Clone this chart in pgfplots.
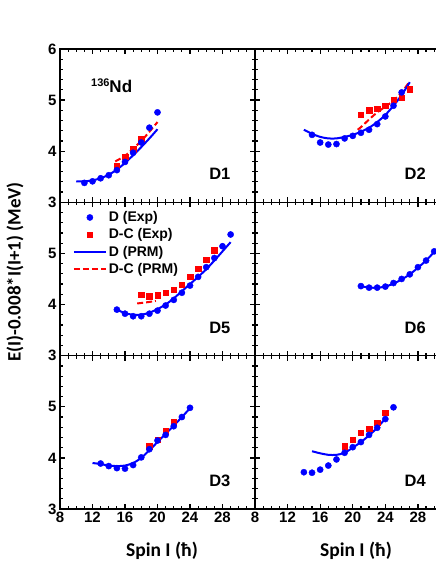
\documentclass[border=0pt]{standalone}
\usepackage{pgfplots}
\pgfplotsset{compat=1.18}
\usepackage{fontspec}
\setmainfont{Liberation Sans}
\newfontfamily\labfont{Carlito}
\definecolor{myblue}{RGB}{0,0,255}
\definecolor{myred}{RGB}{255,0,0}
\pgfplotsset{
 panel/.style={scale only axis, width=195bp, height=153.3bp,
   xmin=8, xmax=32, ymin=3, ymax=6,
   xtick={8,12,...,32}, minor x tick num=3, ytick={3,4,5,6}, minor y tick num=4,
   tick align=inside, major tick length=5bp, minor tick length=3bp,
   axis line style={line width=1.4bp},
   every tick/.style={black, line width=1.2bp},
   /pgf/number format/assume math mode=true,
   ticklabel style={font=\fontsize{15bp}{15bp}\selectfont\bfseries},
   xticklabels={}, yticklabels={}, anchor=south west, clip=false},
 rightpanel/.style={xmax=30.28, width=181.5bp, axis x line*=box, axis y line*=left, separate axis lines},
 expD/.style={only marks, mark=*, mark size=3.1bp, myblue, mark options={draw=myblue, fill=myblue}},
 expDC/.style={only marks, mark=square*, mark size=2.7bp, myred, mark options={draw=myred, fill=myred}},
 prmD/.style={no marks, myblue, line width=2bp, smooth},
 prmDC/.style={no marks, myred, line width=2bp, dash pattern=on 6bp off 3bp, smooth},
}
\tikzset{dlab/.style={anchor=base east, font=\fontsize{16.5bp}{16.5bp}\selectfont\bfseries}}
\begin{document}
\begin{tikzpicture}
\useasboundingbox (0bp,0bp) rectangle (436bp,564bp);
% ---------- D1 (top left)
\begin{axis}[panel, at={(60bp,361.7bp)}, yticklabels={3,4,5,6}]
\addplot[prmDC] coordinates {(14.8,3.80)(16,3.91)(17,4.05)(18,4.20)(19,4.38)(20,4.57)};
\addplot[prmD] coordinates {(10,3.41)(11,3.41)(12,3.43)(13,3.47)(14,3.54)(15,3.64)(16,3.77)(17,3.92)(18,4.08)(19,4.25)(20,4.43)};
\addplot[expDC] coordinates {(15,3.71)(16,3.89)(17,4.04)(18,4.25)};
\addplot[expD] coordinates {(11,3.38)(12,3.41)(13,3.47)(14,3.53)(15,3.63)(16,3.79)(17,3.97)(18,4.17)(19,4.46)(20,4.76)};
\node[dlab] at (axis cs:29.4,3.44) {D1};
\node[anchor=base west, font=\fontsize{17bp}{17bp}\selectfont\bfseries] at (axis cs:11.4,5.14) {\raisebox{6bp}{\fontsize{11bp}{11bp}\selectfont 136}Nd};
\end{axis}
% ---------- D2 (top right)
\begin{axis}[panel, rightpanel, at={(255bp,361.7bp)}]
\addplot[prmDC] coordinates {(20.6,4.42)(21,4.47)(22,4.62)(23,4.76)(24,4.87)(25,4.99)(26,5.15)(27,5.37)};
\addplot[prmD] coordinates {(14,4.42)(15,4.34)(16,4.28)(17,4.25)(18,4.25)(19,4.28)(20,4.32)(21,4.38)(22,4.46)(23,4.57)(24,4.71)(25,4.89)(26,5.10)(27,5.35)};
\addplot[expDC] coordinates {(21,4.72)(22,4.80)(23,4.83)(24,4.89)(25,5.01)(26,5.05)(27,5.21)};
\addplot[expD] coordinates {(15,4.32)(16,4.17)(17,4.13)(18,4.14)(19,4.25)(20,4.30)(21,4.36)(22,4.42)(23,4.53)(24,4.68)(25,4.89)(26,5.15)};
\node[dlab] at (axis cs:29.4,3.44) {D2};
\end{axis}
% ---------- D5 (middle left)
\begin{axis}[panel, at={(60bp,208.4bp)}, yticklabels={3,4,5,{}},
  legend style={draw=none, fill=none, at={(axis cs:9.56,5.86)}, anchor=north west,
    font=\fontsize{14bp}{15bp}\selectfont\bfseries, row sep=1.5bp, inner sep=0pt},
  legend cell align=left,
  legend image code/.code={\draw[mark repeat=2,mark phase=2,#1] plot coordinates {(0bp,0bp) (16bp,0bp) (32bp,0bp)};}]
\addlegendimage{expD}
\addlegendimage{expDC}
\addlegendimage{prmD}
\addlegendimage{prmDC}
\legend{D (Exp), D-C (Exp), D (PRM), D-C (PRM)}
\addplot[prmDC, forget plot] coordinates {(17.5,4.02)(18,4.03)(19,4.05)(19.8,4.07)};
\addplot[prmD, forget plot] coordinates {(15,3.90)(16,3.83)(17,3.80)(18,3.80)(19,3.84)(20,3.91)(21,4.00)(22,4.12)(23,4.26)(24,4.40)(25,4.54)(26,4.69)(27,4.86)(28,5.04)(29,5.22)};
\addplot[expDC, forget plot] coordinates {(18,4.19)(19,4.16)(20,4.18)(21,4.23)(22,4.29)(23,4.39)(24,4.54)(25,4.70)(26,4.88)(27,5.06)};
\addplot[expD, forget plot] coordinates {(15,3.90)(16,3.82)(17,3.77)(18,3.77)(19,3.82)(20,3.88)(21,3.98)(22,4.09)(23,4.23)(24,4.37)(25,4.54)(26,4.73)(27,4.91)(28,5.14)(29,5.37)};
\node[dlab] at (axis cs:29.4,3.44) {D5};
\end{axis}
% ---------- D6 (middle right)
\begin{axis}[panel, rightpanel, at={(255bp,208.4bp)}]
\addplot[prmD] coordinates {(21,4.36)(22,4.33)(23,4.33)(24,4.35)(25,4.41)(26,4.49)(27,4.59)(28,4.72)(29,4.86)(30,5.03)};
\addplot[expD] coordinates {(21,4.36)(22,4.33)(23,4.33)(24,4.35)(25,4.42)(26,4.50)(27,4.59)(28,4.73)(29,4.86)(30,5.04)};
\node[dlab] at (axis cs:29.4,3.44) {D6};
\end{axis}
% ---------- D3 (bottom left)
\begin{axis}[panel, at={(60bp,55bp)}, yticklabels={3,4,5,{}}, xticklabels={8,12,16,20,24,28,{}}]
\addplot[prmD] coordinates {(12,3.90)(13,3.88)(14,3.85)(15,3.84)(16,3.85)(17,3.90)(18,4.00)(19,4.15)(20,4.31)(21,4.47)(22,4.63)(23,4.80)(24,4.97)};
\addplot[expDC] coordinates {(19,4.23)(20,4.36)(21,4.52)(22,4.70)};
\addplot[expD] coordinates {(13,3.89)(14,3.84)(15,3.80)(16,3.79)(17,3.86)(18,4.01)(19,4.17)(20,4.34)(21,4.45)(22,4.62)(23,4.80)(24,4.98)};
\node[dlab] at (axis cs:29.4,3.44) {D3};
\end{axis}
% ---------- D4 (bottom right)
\begin{axis}[panel, rightpanel, at={(255bp,55bp)}, xticklabels={8,12,16,20,24,28}]
\addplot[prmD] coordinates {(15,4.13)(16,4.09)(17,4.06)(18,4.06)(19,4.10)(20,4.20)(21,4.31)(22,4.44)(23,4.59)(24,4.77)};
\addplot[expDC] coordinates {(19,4.23)(20,4.36)(21,4.49)(22,4.57)(23,4.69)(24,4.88)};
\addplot[expD] coordinates {(14,3.72)(15,3.71)(16,3.77)(17,3.85)(18,3.97)(19,4.10)(20,4.21)(21,4.31)(22,4.45)(23,4.59)(24,4.76)(25,4.99)};
\node[dlab] at (axis cs:29.4,3.44) {D4};
\end{axis}
% ---------- labels
\node[rotate=90, font=\labfont\fontsize{19bp}{19bp}\selectfont\bfseries] at (15bp,292bp) {E(I)-0.008*I(I+1) (MeV)};
\node[font=\labfont\fontsize{19.5bp}{19.5bp}\selectfont\bfseries] at (162bp,13bp) {Spin I (ħ)};
\node[font=\labfont\fontsize{19.5bp}{19.5bp}\selectfont\bfseries] at (356bp,13bp) {Spin I (ħ)};
\end{tikzpicture}
\end{document}
